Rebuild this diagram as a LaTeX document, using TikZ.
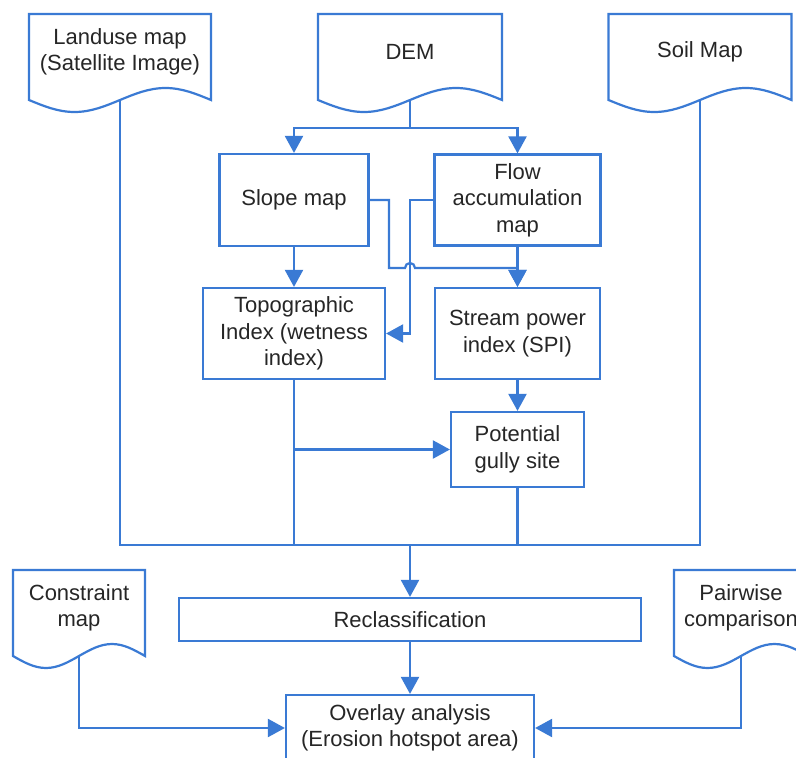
\documentclass[tikz,border=0pt]{standalone}
\usepackage{fontspec}
\setmainfont{Liberation Sans}
\usetikzlibrary{arrows.meta}

\definecolor{flowblue}{RGB}{58,122,212}
\definecolor{textgray}{RGB}{38,38,38}

\begin{document}
\begin{tikzpicture}[x=1pt,y=-1pt,>={Triangle[width=18pt,length=17pt]},line width=2.2pt,
  font=\fontsize{22}{26.5}\selectfont,
  every node/.style={text=textgray, align=center},
  box/.style={draw=flowblue, rectangle, minimum width=#1pt, inner sep=0pt},
  doc/.style={minimum width=#1pt, minimum height=76pt, inner sep=0pt, outer sep=0pt,
    append after command={\pgfextra{\edef\docname{\tikzlastnode}
      \draw[flowblue] (\docname.north west) -- (\docname.north east) -- ++(0,86)
        sin ++(-#1/4,-12) cos ++(-#1/4,12) coordinate (\docname-w)
        sin ++(-#1/4,12) cos ++(-#1/4,-12) -- cycle;}}}]

  \useasboundingbox[fill=white] (0,0) rectangle (796,758);

  % input maps
  \node[doc=182] (landuse) at (120,52) {Landuse map\\(Satellite Image)};
  \node[doc=184] (dem) at (410,52) {DEM};
  \node[doc=183] (soil) at (700,52) {Soil Map};
  \node[doc=132] (constraint) at (79,608) {Constraint\\map};
  \node[doc=134] (pairwise) at (741,608) {Pairwise\\comparison};

  % processing steps
  \node[box=149, minimum height=92pt] (slope) at (294,200) {Slope map};
  \node[box=166, minimum height=91pt] (flow) at (517.5,200) {Flow\\accumulation\\map};
  \node[box=182, minimum height=91pt] (topo) at (294,333.5) {Topographic\\Index (wetness\\index)};
  \node[box=165, minimum height=91pt] (spi) at (517.5,333.5) {Stream power\\index (SPI)};
  \node[box=133, minimum height=75pt] (gully) at (517.5,449.5) {Potential\\gully site};
  \node[box=462, minimum height=43pt] (reclass) at (410,619.5) {Reclassification};
  \node[box=248, minimum height=66pt] (overlay) at (410,728) {Overlay analysis\\(Erosion hotspot area)};

  \coordinate (split) at (410,128);
  \coordinate (bus) at (410,545);
  \coordinate (bend) at (389,268);
  \coordinate (jump) at (410,268);

  \draw[flowblue] (dem-w) -- (split);
  \draw[flowblue,->] (split) -| (slope);
  \draw[flowblue,->] (split) -| (flow);

  \path[flowblue,->]
       (slope) edge (topo)
       (flow) edge (spi)
       (spi) edge (gully)
       (reclass) edge (overlay);

  \draw[flowblue,->] (slope.east) -| (bend) -- ([xshift=-5pt]jump)
    arc[start angle=180,end angle=360,radius=5] -| (spi);
  \draw[flowblue,->] (flow.west) -- (flow.west -| jump) |- (topo.east);
  \draw[flowblue,->] (topo.south |- gully.west) -- (gully.west);

  \draw[flowblue] (landuse-w) |- (bus) -| (soil-w);
  \draw[flowblue] (topo.south) -- (topo.south |- bus);
  \draw[flowblue] (gully.south) -- (gully.south |- bus);
  \draw[flowblue,->] (bus) -- (reclass);

  \draw[flowblue,->] (constraint-w) |- (overlay.west);
  \draw[flowblue,->] (pairwise-w) |- (overlay.east);
\end{tikzpicture}
\end{document}
